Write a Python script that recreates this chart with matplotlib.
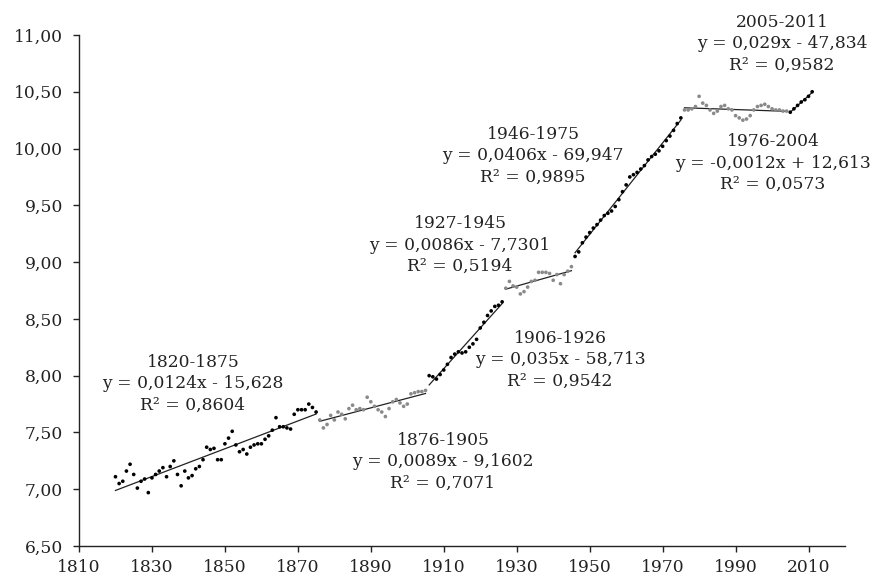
import matplotlib
matplotlib.use("Agg")
import matplotlib.pyplot as plt
import numpy as np

# ---- data -------------------------------------------------------------
seg_labels = ["1820-1875", "1876-1905", "1906-1926", "1927-1945",
              "1946-1975", "1976-2004", "2005-2011"]
seg_start = [1820, 1876, 1906, 1927, 1946, 1976, 2005]
seg_end = [1875, 1905, 1926, 1945, 1975, 2004, 2011]
# equations as printed on the chart
slopes = [0.0124, 0.0089, 0.035, 0.0086, 0.0406, -0.0012, 0.029]
intercepts = [-15.628, -9.1602, -58.713, -7.7301, -69.947, 12.613, -47.834]
r2 = [0.8604, 0.7071, 0.9542, 0.5194, 0.9895, 0.0573, 0.9582]

vals_1820_1875 = [7.11, 7.05, 7.07, 7.16, 7.22, 7.13, 7.01, 7.07, 7.09, 6.97,
                  7.10, 7.13, 7.16, 7.19, 7.11, 7.20, 7.25, 7.13, 7.03, 7.16,
                  7.10, 7.12, 7.18, 7.20, 7.26, 7.37, 7.35, 7.36, 7.26, 7.26,
                  7.40, 7.45, 7.51, 7.39, 7.33, 7.35, 7.31, 7.37, 7.39, 7.40,
                  7.40, 7.44, 7.47, 7.52, 7.63, 7.55, 7.55, 7.54, 7.53, 7.66,
                  7.70, 7.70, 7.70, 7.75, 7.72, 7.68]
vals_1876_1905 = [7.61, 7.54, 7.57, 7.65, 7.61, 7.68, 7.66, 7.62, 7.71, 7.74,
                  7.70, 7.71, 7.70, 7.81, 7.77, 7.73, 7.70, 7.68, 7.64, 7.71,
                  7.77, 7.79, 7.76, 7.73, 7.75, 7.84, 7.85, 7.86, 7.86, 7.87]
vals_1906_1926 = [8.00, 7.99, 7.97, 8.01, 8.05, 8.10, 8.16, 8.19, 8.21, 8.20,
                  8.21, 8.25, 8.28, 8.32, 8.42, 8.47, 8.53, 8.57, 8.61, 8.62,
                  8.65]
vals_1927_1945 = [8.77, 8.83, 8.79, 8.78, 8.72, 8.74, 8.78, 8.83, 8.84, 8.91,
                  8.91, 8.91, 8.90, 8.84, 8.89, 8.81, 8.89, 8.92, 8.96]
vals_1946_1975 = [9.05, 9.09, 9.17, 9.22, 9.26, 9.30, 9.33, 9.37, 9.41, 9.43,
                  9.45, 9.49, 9.55, 9.62, 9.68, 9.75, 9.77, 9.79, 9.82, 9.85,
                  9.90, 9.93, 9.95, 9.98, 10.02, 10.07, 10.11, 10.16, 10.22, 10.27]
vals_1976_2004 = [10.34, 10.34, 10.35, 10.37, 10.46, 10.40, 10.38, 10.34, 10.31,
                  10.33, 10.37, 10.38, 10.35, 10.34, 10.29, 10.27, 10.25, 10.26,
                  10.29, 10.34, 10.37, 10.38, 10.39, 10.37, 10.35, 10.34, 10.34,
                  10.33, 10.33]
vals_2005_2011 = [10.32, 10.35, 10.38, 10.41, 10.43, 10.46, 10.50]

seg_values = [vals_1820_1875, vals_1876_1905, vals_1906_1926, vals_1927_1945,
              vals_1946_1975, vals_1976_2004, vals_2005_2011]

x_ticks = list(range(1810, 2011, 20))
y_ticks = [6.5, 7.0, 7.5, 8.0, 8.5, 9.0, 9.5, 10.0, 10.5, 11.0]

# ---- style / layout -----------------------------------------------------
W, H = 877, 580
seg_colors = ["#000000", "#8a8a8a"] * 4
# label centres (pixels, middle line) - layout only
label_px = [(193, 384), (443, 462), (560, 360), (460, 245),
            (533, 156), (773, 163), (782, 44)]

FONT = "DejaVu Serif"
plt.rcParams["font.family"] = [FONT, "DejaVu Sans"]
TXT = "#222222"

fig = plt.figure(figsize=(W / 100, H / 100), dpi=100)
left, right, bottom, top = 79, 845, 546, 35
ax = fig.add_axes([left / W, 1 - bottom / H, (right - left) / W, (bottom - top) / H])


def fmt(x):
    return repr(abs(x)).replace(".", ",")


for i in range(len(seg_labels)):
    yrs = np.arange(seg_start[i], seg_end[i] + 1)
    v = np.array(seg_values[i])
    ax.scatter(yrs, v, s=7, color=seg_colors[i], edgecolors="none", zorder=3,
               clip_on=False)
    # linear trend line fitted to the segment's points
    k, b = np.polyfit(yrs, v, 1)
    xs = np.array([seg_start[i], seg_end[i]])
    ax.plot(xs, k * xs + b, color="#222222", lw=0.9, zorder=2)

    sgn_s = "-" if slopes[i] < 0 else ""
    sgn_i = "-" if intercepts[i] < 0 else "+"
    txt = (f"{seg_labels[i]}\n"
           f"y = {sgn_s}{fmt(slopes[i])}x {sgn_i} {fmt(intercepts[i])}\n"
           f"R² = {fmt(r2[i])}")
    px, py = label_px[i]
    fig.text(px / W, 1 - py / H, txt, ha="center", va="center",
             fontsize=12.3, linespacing=1.32, color=TXT,
             multialignment="center")

ax.set_xlim(1810, 2020)
ax.set_ylim(6.5, 11.0)
ax.set_xticks(x_ticks)
ax.set_xticklabels([str(t) for t in x_ticks])
ax.set_yticks(y_ticks)
ax.set_yticklabels([f"{t:.2f}".replace(".", ",") for t in y_ticks])
for s in ["top", "right"]:
    ax.spines[s].set_visible(False)
for s in ["left", "bottom"]:
    ax.spines[s].set_color("#222222")
    ax.spines[s].set_linewidth(1.0)
ax.tick_params(direction="out", length=4.5, width=1, color="#222222",
               labelsize=12.3, labelcolor=TXT)
ax.tick_params(axis="y", pad=7)
ax.tick_params(axis="x", pad=5)

fig.savefig("out.png", dpi=100)
